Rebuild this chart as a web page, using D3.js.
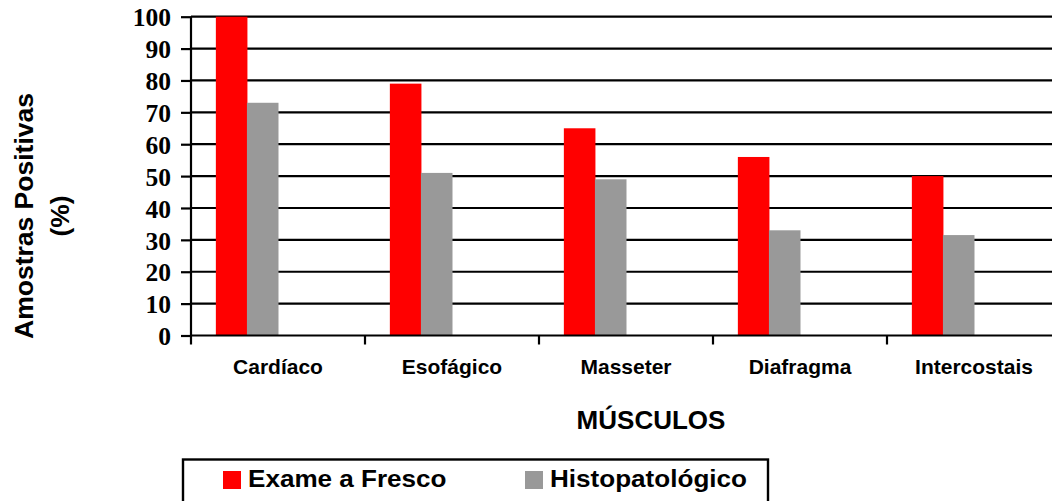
<!DOCTYPE html>
<html><head><meta charset="utf-8">
<script src="https://cdn.jsdelivr.net/npm/d3@7"></script>
<style>html,body{margin:0;padding:0;background:#fff;overflow:hidden}</style>
</head><body>
<svg id="c" width="1052" height="501"></svg>
<script>
const categories = ["Cardíaco","Esofágico","Masseter","Diafragma","Intercostais"];
const exameFresco = [100, 79, 65, 56, 50];
const histopatologico = [73, 51, 49, 33, 31.5];
const seriesNames = ["Exame a Fresco","Histopatológico"];
const seriesColors = ["#ff0000","#999999"];
const yTicks = [0,10,20,30,40,50,60,70,80,90,100];

(function(){
const svg = d3.select("#c");
const pL = 191, pR = 1061, pT = 16.7, pB = 335.5;
const sans = "'Liberation Sans',Arial,sans-serif";
const x = d3.scaleBand().domain(categories).range([pL, pR]).padding(0);
const slots = ["s0","s1","s2","s3"];
const xs = d3.scaleBand().domain(slots).range([0, x.bandwidth()]).paddingInner(0).paddingOuter(0.8);
const y = d3.scaleLinear().domain([0,100]).range([pB, pT]);

// grid
svg.append("g").selectAll("line").data(yTicks.filter(d=>d>0)).join("line")
  .attr("x1", pL).attr("x2", 1052).attr("y1", d=>y(d)).attr("y2", d=>y(d))
  .attr("stroke","#000").attr("stroke-width",2.2);

// bars
const data = categories.map((c,i)=>({c, vals:[exameFresco[i], histopatologico[i]]}));
const g = svg.append("g");
data.forEach(d=>{
  d.vals.forEach((v,k)=>{
    g.append("rect").attr("x", x(d.c)+xs(slots[k])).attr("width", xs.bandwidth()+0.5)
      .attr("y", y(v)).attr("height", y(0)-y(v)).attr("fill", seriesColors[k]);
  });
});

// y axis
const ya = svg.append("g").attr("transform",`translate(${pL},0)`)
  .call(d3.axisLeft(y).tickValues(yTicks).tickSize(10).tickPadding(10));
ya.select(".domain").attr("stroke","#000").attr("stroke-width",2.2).attr("d",`M0,${pB}V${pT}`);
ya.selectAll(".tick line").attr("stroke","#000").attr("stroke-width",2.2);
ya.selectAll(".tick text").attr("font-family","'Liberation Serif','Times New Roman',serif")
  .attr("font-weight","bold").attr("font-size","25.5px").attr("fill","#000").attr("dy","0.36em");

// x axis
const xa = svg.append("g").attr("transform",`translate(0,${pB})`)
  .call(d3.axisBottom(x).tickSize(0).tickPadding(24));
xa.select(".domain").attr("stroke","#000").attr("stroke-width",2.2).attr("d",`M${pL},0H1052`);
xa.selectAll(".tick text").attr("font-family",sans)
  .attr("font-weight","bold").attr("font-size","21px").attr("fill","#000");
svg.append("g").selectAll("line").data(categories).join("line")
  .attr("x1", d=>x(d)).attr("x2", d=>x(d)).attr("y1", pB).attr("y2", pB+9)
  .attr("stroke","#000").attr("stroke-width",2.2);

// axis titles
svg.append("text").attr("x", 651).attr("y", 429).attr("text-anchor","middle")
  .attr("font-family",sans).attr("font-weight","bold")
  .attr("font-size","26px").text("MÚSCULOS");
const yt = svg.append("text").attr("transform","translate(0,216) rotate(-90)")
  .attr("text-anchor","middle").attr("font-family",sans)
  .attr("font-weight","bold").attr("font-size","26.5px");
yt.append("tspan").attr("x",0).attr("y",33).text("Amostras Positivas");
yt.append("tspan").attr("x",0).attr("y",69).text("(%)");

// legend
const lg = svg.append("g");
lg.append("rect").attr("x",183).attr("y",459.5).attr("width",585).attr("height",45)
  .attr("fill","#fff").attr("stroke","#000").attr("stroke-width",2.4);
const lx = [223, 525];
seriesNames.forEach((n,k)=>{
  lg.append("rect").attr("x",lx[k]).attr("y",471).attr("width",18).attr("height",18).attr("fill",seriesColors[k]);
  lg.append("text").attr("transform",`translate(${lx[k]+25},487) scale(1.11,1)`)
    .attr("font-family",sans).attr("font-weight","bold").attr("font-size","23.5px").text(n);
});
})();
</script>
</body></html>
